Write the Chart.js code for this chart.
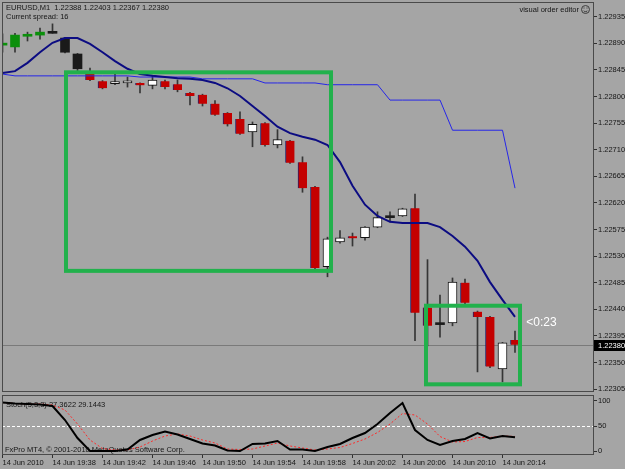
<!DOCTYPE html>
<html>
<head>
<meta charset="utf-8">
<script src="https://cdn.jsdelivr.net/npm/chart.js@4.4.1/dist/chart.umd.min.js"></script>
<style>
  html, body { margin: 0; padding: 0; background: #a5a5a5; }
  #wrap { position: relative; width: 625px; height: 469px; overflow: hidden; }
  canvas { position: absolute; left: 0; display: block; }
  #main { top: 0; }
  #stoch { top: 393px; }
</style>
</head>
<body>
<div id="wrap">
  <canvas id="main" width="625" height="393"></canvas>
  <canvas id="stoch" width="625" height="76"></canvas>
</div>
<script>
var symbol = "EURUSD,M1";
var spread = 16;

// one label every 4 bars, first one shows the date
var timeLabels = ["14 Jun 2010", "14 Jun 19:38", "14 Jun 19:42", "14 Jun 19:46", "14 Jun 19:50",
  "14 Jun 19:54", "14 Jun 19:58", "14 Jun 20:02", "14 Jun 20:06", "14 Jun 20:10", "14 Jun 20:14"];
var labelEvery = 4;

var priceTicks = [1.22935, 1.22890, 1.22845, 1.22800, 1.22755, 1.22710, 1.22665, 1.22620,
  1.22575, 1.22530, 1.22485, 1.22440, 1.22395, 1.22350, 1.22305];

var opens = [1.22887, 1.22884, 1.22902, 1.22904, 1.22907, 1.22899, 1.22872, 1.22840, 1.22826, 1.22822,
  1.22823, 1.22823, 1.22819, 1.22826, 1.22821, 1.22806, 1.22803, 1.22788, 1.22772, 1.22762,
  1.22740, 1.22755, 1.22718, 1.22725, 1.22689, 1.22647, 1.22512, 1.22554, 1.22561, 1.22561,
  1.22579, 1.22595, 1.22598, 1.22611, 1.22443, 1.22414, 1.22417, 1.22485, 1.22436, 1.22427,
  1.22339, 1.22388];
var highs = [1.22906, 1.22907, 1.22909, 1.22916, 1.22923, 1.22900, 1.22873, 1.22848, 1.22827, 1.22840,
  1.22833, 1.22823, 1.22836, 1.22828, 1.22828, 1.22807, 1.22804, 1.22793, 1.22773, 1.22774,
  1.22757, 1.22756, 1.22744, 1.22726, 1.22698, 1.22648, 1.22562, 1.22573, 1.22569, 1.22580,
  1.22605, 1.22605, 1.22611, 1.22635, 1.22524, 1.22464, 1.22493, 1.22491, 1.22437, 1.22428,
  1.22384, 1.22403];
var lows = [1.22875, 1.22875, 1.22894, 1.22897, 1.22907, 1.22874, 1.22842, 1.22827, 1.22813, 1.22820,
  1.22816, 1.22806, 1.22813, 1.22813, 1.22808, 1.22786, 1.22784, 1.22768, 1.22750, 1.22736,
  1.22715, 1.22716, 1.22713, 1.22687, 1.22638, 1.22507, 1.22495, 1.22552, 1.22547, 1.22557,
  1.22578, 1.22588, 1.22597, 1.22387, 1.22378, 1.22393, 1.22412, 1.22448, 1.22334, 1.22341,
  1.22317, 1.22367];
var closes = [1.22890, 1.22904, 1.22903, 1.22909, 1.22907, 1.22875, 1.22847, 1.22828, 1.22814, 1.22825,
  1.22826, 1.22819, 1.22828, 1.22816, 1.22811, 1.22801, 1.22788, 1.22769, 1.22753, 1.22737,
  1.22753, 1.22718, 1.22727, 1.22688, 1.22645, 1.22510, 1.22559, 1.22561, 1.22560, 1.22579,
  1.22595, 1.22595, 1.22610, 1.22434, 1.22412, 1.22414, 1.22486, 1.22451, 1.22427, 1.22343,
  1.22383, 1.22380];

// dark blue moving average and the thin blue M5 average
var maFast = [1.22840, 1.22843, 1.22857, 1.22875, 1.22891, 1.22899, 1.22899, 1.22889, 1.22875, 1.22860,
  1.22847, 1.22838, 1.22835, 1.22833, 1.22831, 1.22830, 1.22828, 1.22823, 1.22814, 1.22801,
  1.22784, 1.22767, 1.22749, 1.22738, 1.22732, 1.22727, 1.22718, 1.22689, 1.22649, 1.22617,
  1.22598, 1.22588, 1.22586, 1.22586, 1.22586, 1.22579, 1.22564, 1.22546, 1.22522, 1.22486,
  1.22456, 1.22427];
var maSlow = [1.22838, 1.22835, 1.22835, 1.22835, 1.22835, 1.22835, 1.22835, 1.22835, 1.22835, 1.22835,
  1.22835, 1.22833, 1.22833, 1.22833, 1.22833, 1.22833, 1.22830, 1.22830, 1.22830, 1.22830,
  1.22830, 1.22823, 1.22823, 1.22823, 1.22823, 1.22823, 1.22820, 1.22820, 1.22820, 1.22820,
  1.22820, 1.22794, 1.22794, 1.22794, 1.22794, 1.22794, 1.22743, 1.22743, 1.22743, 1.22743,
  1.22743, 1.22645];

var bid = 1.22380;
var timerText = "<0:23";
var timerAt = { x: 41.9, y: 1.22417 };

// green boxes drawn on the chart (bar index / price)
var boxes = [
  { from: 5.08, to: 26.28, top: 1.22841, bottom: 1.22505 },
  { from: 33.88, to: 41.4, top: 1.22446, bottom: 1.22313 }
];

var stochK = [97, 95, 94, 93, 90, 62, 26, 0, 0, 0,
  3, 22, 32, 39, 33, 24, 15, 11, 1, 0,
  14, 15, 20, 3, 3, 0, 8, 14, 26, 36,
  54, 76, 96, 42, 22, 12, 20, 24, 36, 25,
  30, 27.3622];
var stochD = [97, 95, 94, 94, 92, 82, 54, 22, 5, 2,
  2, 8, 20, 30, 34, 30, 22, 16, 4, 3,
  4, 10, 16, 10, 6, 2, 4, 7, 15, 24,
  37, 54, 75, 72, 54, 29, 18, 19, 27, 27,
  30, 29.1443];
var stochTicks = [0, 50, 100];
var stochLevels = [50];

var xMin = -0.04;
var xMax = 47.32;

function fontExists(name) {
  var c = document.createElement("canvas").getContext("2d");
  var probe = "1.22935 Jun 19:38 mmmWWiii";
  c.font = "40px monospace";
  var a = c.measureText(probe).width;
  c.font = "40px '" + name + "', monospace";
  return c.measureText(probe).width !== a;
}

var narrow = fontExists("Liberation Sans Narrow");
var uiFamily = narrow ? "'Liberation Sans Narrow', 'Liberation Sans'" : "'Liberation Sans'";
var uiSize = narrow ? 9 : 7.5;
var uiFont = uiSize + "px " + uiFamily;
var textColor = "#161616";
var frameColor = "#4a4a4a";

function isBull(i) {
  return closes[i] > opens[i];
}

// the first bars of this window are painted green/black, the rest white/red
function bodyColor(i) {
  if (closes[i] === opens[i]) return "#1c1c1c";
  if (i < 7) return isBull(i) ? "#0b8f0b" : "#1a1a1a";
  return isBull(i) ? "#ffffff" : "#c40000";
}

function toPoints(arr) {
  return arr.map(function (v, i) {
    return { x: i, y: v };
  });
}

function frame(chart) {
  var ctx = chart.ctx;
  var a = chart.chartArea;
  ctx.save();
  ctx.strokeStyle = frameColor;
  ctx.lineWidth = 1;
  ctx.strokeRect(Math.round(a.left) + 0.5, Math.round(a.top) + 0.5,
    Math.round(a.right - a.left) - 1, Math.round(a.bottom - a.top) - 1);
  ctx.restore();
}

var mainDecor = {
  id: "mainDecor",
  beforeDatasetsDraw: function (chart) {
    var ctx = chart.ctx;
    var a = chart.chartArea;
    var y = chart.scales.y;
    var py = Math.round(y.getPixelForValue(bid)) + 0.5;
    var last = closes.length - 1;

    ctx.save();
    ctx.strokeStyle = "#7a7a7a";
    ctx.lineWidth = 1;
    ctx.beginPath();
    ctx.moveTo(a.left, py);
    ctx.lineTo(a.right, py);
    ctx.stroke();

    ctx.fillStyle = textColor;
    ctx.font = uiFont;
    ctx.textBaseline = "middle";
    ctx.fillText(symbol + "  " + [opens[last], highs[last], lows[last], closes[last]].map(function (v) {
      return v.toFixed(5);
    }).join(" "), 6, 8);
    ctx.fillText("Current spread: " + spread, 6, 16.5);

    ctx.textAlign = "right";
    ctx.fillText("visual order editor", 579, 9.5);

    // little smiley next to it
    ctx.strokeStyle = "#3c3c3c";
    ctx.beginPath();
    ctx.arc(585.5, 9.5, 4, 0, Math.PI * 2);
    ctx.stroke();
    ctx.beginPath();
    ctx.arc(585.5, 9.5, 2.2, 0.2 * Math.PI, 0.8 * Math.PI);
    ctx.stroke();
    ctx.fillStyle = "#3c3c3c";
    ctx.fillRect(583.5, 7.5, 1, 1);
    ctx.fillRect(586.5, 7.5, 1, 1);
    ctx.restore();
  },
  afterDatasetsDraw: function (chart) {
    var ctx = chart.ctx;
    var x = chart.scales.x;
    var y = chart.scales.y;

    ctx.save();
    ctx.strokeStyle = "#22b14c";
    ctx.lineWidth = 4;
    boxes.forEach(function (b) {
      var x0 = x.getPixelForValue(b.from);
      var x1 = x.getPixelForValue(b.to);
      var y0 = y.getPixelForValue(b.top);
      var y1 = y.getPixelForValue(b.bottom);
      ctx.strokeRect(x0, y0, x1 - x0, y1 - y0);
    });

    ctx.fillStyle = "#ffffff";
    ctx.font = "12px 'Liberation Sans'";
    ctx.textBaseline = "middle";
    ctx.fillText(timerText, x.getPixelForValue(timerAt.x), y.getPixelForValue(timerAt.y));
    ctx.restore();

    frame(chart);
  },
  afterDraw: function (chart) {
    var ctx = chart.ctx;
    var a = chart.chartArea;
    var py = Math.round(chart.scales.y.getPixelForValue(bid));
    ctx.save();
    ctx.fillStyle = "#000000";
    ctx.fillRect(Math.round(a.right), py - 5, 31, 11);
    ctx.fillStyle = "#ffffff";
    ctx.font = uiFont;
    ctx.textBaseline = "middle";
    ctx.fillText(bid.toFixed(5), Math.round(a.right) + 4, py + 0.5);
    ctx.restore();
  }
};

var stochDecor = {
  id: "stochDecor",
  beforeDatasetsDraw: function (chart) {
    var ctx = chart.ctx;
    var a = chart.chartArea;
    var y = chart.scales.y;
    var last = stochK.length - 1;

    ctx.save();
    ctx.strokeStyle = "#ffffff";
    ctx.lineWidth = 1;
    ctx.setLineDash([3, 2]);
    stochLevels.forEach(function (v) {
      var py = Math.round(y.getPixelForValue(v)) + 0.5;
      ctx.beginPath();
      ctx.moveTo(a.left, py);
      ctx.lineTo(a.right, py);
      ctx.stroke();
    });
    ctx.setLineDash([]);

    ctx.fillStyle = textColor;
    ctx.font = uiFont;
    ctx.textBaseline = "middle";
    ctx.fillText("Stoch(5,3,3) " + stochK[last].toFixed(4) + " " + stochD[last].toFixed(4), 6, a.top + 10);
    ctx.fillText("FxPro MT4, \u00a9 2001-2010 MetaQuotes Software Corp.", 5, a.bottom - 5.5);
    ctx.restore();
  },
  afterDatasetsDraw: function (chart) {
    frame(chart);
  }
};

var tickFont = { family: uiFamily, size: uiSize };

var candleBodies = opens.map(function (o, i) {
  return { x: i, y: [o, closes[i]] };
});
var candleWicks = lows.map(function (l, i) {
  return { x: i, y: [l, highs[i]] };
});

new Chart(document.getElementById("main"), {
  type: "bar",
  data: {
    datasets: [
      {
        type: "line",
        data: toPoints(maFast),
        borderColor: "#0c0c82",
        borderWidth: 2,
        pointRadius: 0,
        order: 0,
      },
      {
        type: "line",
        data: toPoints(maSlow),
        borderColor: "#2626e8",
        borderWidth: 1,
        pointRadius: 0,
        order: 0,
      },
      {
        data: candleBodies,
        grouped: false,
        barThickness: 9,
        minBarLength: 2,
        borderSkipped: false,
        backgroundColor: function (c) {
          return bodyColor(c.dataIndex);
        },
        borderColor: function (c) {
          return isBull(c.dataIndex) ? "#111111" : "#24206a";
        },
        borderWidth: function (c) {
          var i = c.dataIndex;
          if (i >= 7 && isBull(i)) return 1;
          if (i >= 7 && closes[i] < opens[i]) return { left: 1, right: 0, top: 0, bottom: 0 };
          return 0;
        },
        order: 1,
      },
      {
        data: candleWicks,
        grouped: false,
        barThickness: 1,
        backgroundColor: "#363636",
        borderWidth: 0,
        order: 2,
      },
    ],
  },
  options: {
    responsive: false,
    animation: false,
    events: [],
    layout: { padding: { left: 2, top: 2, right: 0, bottom: 1 } },
    plugins: { legend: { display: false }, tooltip: { enabled: false } },
    scales: {
      x: {
        type: "linear",
        min: xMin,
        max: xMax,
        offset: false,
        display: false,
      },
      y: {
        type: "linear",
        position: "right",
        min: 1.22300,
        max: 1.22960,
        afterBuildTicks: function (s) {
          s.ticks = priceTicks.map(function (v) {
            return { value: v };
          });
        },
        afterFit: function (s) {
          s.width = 31;
          s.paddingTop = 0;
          s.paddingBottom = 0;
        },
        border: { display: false },
        grid: { drawOnChartArea: false, tickLength: 3, color: "#303030" },
        ticks: {
          autoSkip: false,
          padding: 1,
          color: textColor,
          font: tickFont,
          callback: function (v) {
            return v.toFixed(5);
          },
        },
      },
    },
  },
  plugins: [mainDecor],
});

new Chart(document.getElementById("stoch"), {
  type: "line",
  data: {
    datasets: [
      {
        data: toPoints(stochK),
        borderColor: "#000000",
        borderWidth: 2,
        pointRadius: 0,
      },
      {
        data: toPoints(stochD),
        borderColor: "#ff2a2a",
        borderWidth: 1,
        borderDash: [2, 2],
        pointRadius: 0,
      },
    ],
  },
  options: {
    responsive: false,
    animation: false,
    events: [],
    layout: { padding: { left: 2, top: 2, right: 0, bottom: 0 } },
    plugins: { legend: { display: false }, tooltip: { enabled: false } },
    scales: {
      x: {
        type: "linear",
        min: xMin,
        max: xMax,
        afterBuildTicks: function (s) {
          s.ticks = timeLabels.map(function (t, k) {
            return { value: k * labelEvery };
          });
        },
        afterFit: function (s) {
          s.height = 14;
          s.paddingLeft = 0;
          s.paddingRight = 0;
        },
        border: { display: false },
        grid: { drawOnChartArea: false, tickLength: 3, color: "#303030" },
        ticks: {
          autoSkip: false,
          maxRotation: 0,
          align: "start",
          padding: 0,
          color: textColor,
          font: tickFont,
          callback: function (v, idx) {
            return timeLabels[idx];
          },
        },
      },
      y: {
        type: "linear",
        position: "right",
        min: -8,
        max: 112,
        afterBuildTicks: function (s) {
          s.ticks = stochTicks.map(function (v) {
            return { value: v };
          });
        },
        afterFit: function (s) {
          s.width = 31;
          s.paddingTop = 0;
          s.paddingBottom = 0;
        },
        border: { display: false },
        grid: { drawOnChartArea: false, tickLength: 3, color: "#303030" },
        ticks: {
          autoSkip: false,
          padding: 1,
          color: textColor,
          font: tickFont,
        },
      },
    },
  },
  plugins: [stochDecor],
});
</script>
</body>
</html>
